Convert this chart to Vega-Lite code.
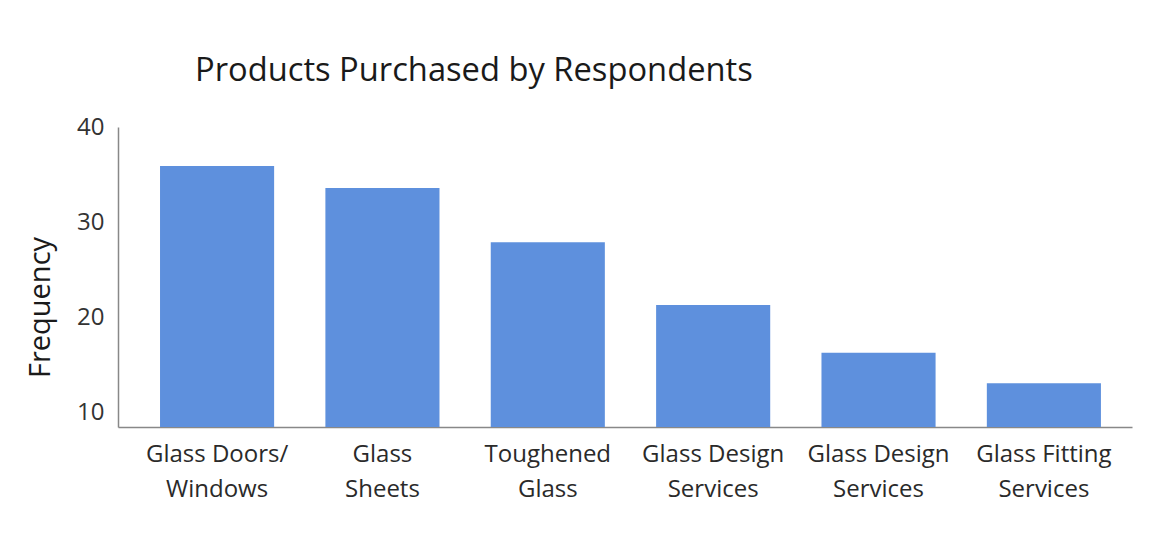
{
  "$schema": "https://vega.github.io/schema/vega-lite/v6.json",
  "width": 1014,
  "height": 300,
  "autosize": {"type": "none"},
  "padding": {"left": 118, "top": 127, "right": 29, "bottom": 115},
  "background": "white",
  "title": {
    "text": "Products Purchased by Respondents",
    "anchor": "start",
    "frame": "group",
    "dx": 77,
    "offset": 1,
    "baseline": "alphabetic",
    "font": "Open Sans",
    "fontSize": 32.7,
    "fontWeight": "normal",
    "color": "#1a1a1a"
  },
  "data": {
    "values": [
      {"product": "Glass Doors/|Windows", "frequency": 35.9},
      {"product": "Glass|Sheets", "frequency": 33.6},
      {"product": "Toughened|Glass", "frequency": 27.9},
      {"product": "Glass Design|Services", "frequency": 21.3},
      {"product": "Glass Design|Services ", "frequency": 16.3},
      {"product": "Glass Fitting|Services", "frequency": 13.1}
    ]
  },
  "mark": {"type": "bar", "color": "#5E90DD", "clip": true},
  "encoding": {
    "x": {
      "field": "product",
      "type": "nominal",
      "sort": null,
      "scale": {"paddingInner": 0.31, "paddingOuter": 0.221, "align": 0.575},
      "axis": {
        "title": null,
        "labelAngle": 0,
        "labelExpr": "split(datum.label, '|')",
        "labelFont": "Open Sans",
        "labelFontSize": 24,
        "labelColor": "#2a2a2a",
        "labelLineHeight": 35,
        "labelPadding": 15,
        "ticks": false,
        "domainColor": "#888888",
        "domainWidth": 1.5,
        "grid": false
      }
    },
    "y": {
      "field": "frequency",
      "type": "quantitative",
      "scale": {"domain": [8.5, 40], "nice": false, "zero": false},
      "axis": {
        "title": "Frequency",
        "values": [10, 20, 30, 40],
        "labelFont": "Open Sans",
        "labelFontSize": 24,
        "labelColor": "#333333",
        "labelPadding": 14,
        "ticks": false,
        "grid": false,
        "domainColor": "#888888",
        "domainWidth": 1.5,
        "titleFont": "Open Sans",
        "titleFontSize": 29,
        "titleFontWeight": "normal",
        "titleColor": "#1a1a1a",
        "titleAngle": -90,
        "titleAlign": "center",
        "titleBaseline": "middle",
        "titleX": -78,
        "titleY": 180
      }
    }
  },
  "config": {"view": {"stroke": null}}
}
